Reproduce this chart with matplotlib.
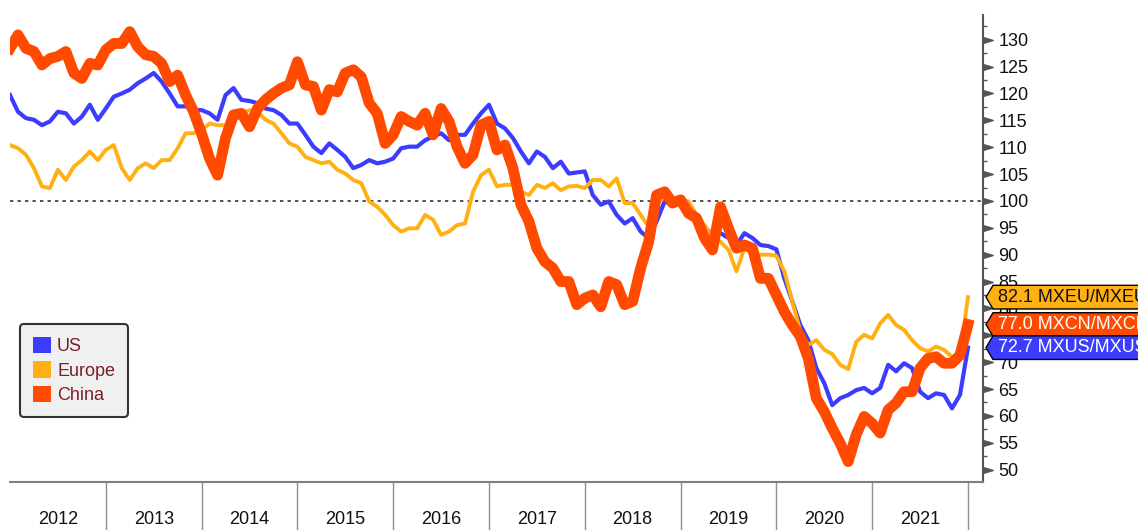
import numpy as np
import matplotlib
matplotlib.use("Agg")
import matplotlib.pyplot as plt
from matplotlib.patches import Patch, Polygon
from matplotlib.ticker import MultipleLocator
import matplotlib.transforms as mtransforms

plt.rcParams['font.family'] = ['Liberation Sans', 'DejaVu Sans']

# monthly index levels, Jan 2012 .. Jan 2022
us = [119.7, 116.6, 115.4, 115.1, 114.1, 114.8, 116.6, 116.3, 114.4, 115.7, 117.9, 115.1,
      117.2, 119.4, 120.0, 120.7, 121.9, 122.8, 123.8, 122.2, 120.0, 117.6, 117.6, 116.9,
      116.9, 116.3, 115.1, 119.7, 121.0, 118.8, 118.6, 118.2, 117.2, 116.9, 116.0, 114.4,
      114.4, 112.3, 110.1, 108.9, 110.7, 109.5, 108.2, 106.1, 106.7, 107.6, 107.0, 107.3,
      107.9, 109.8, 110.1, 110.1, 111.3, 112.0, 112.6, 111.3, 112.3, 112.3, 114.4, 116.3,
      117.9, 114.4, 113.5, 111.7, 109.2, 107.0, 109.2, 108.2, 106.1, 107.3, 105.1, 105.3,
      105.5, 101.1, 99.3, 99.9, 97.4, 95.8, 96.8, 94.3, 93.1, 96.2, 99.9, 99.3,
      99.9, 98.0, 96.2, 94.9, 94.0, 94.0, 93.1, 91.8, 94.0, 93.1, 91.8, 91.6,
      91.0, 85.6, 81.3, 76.9, 74.1, 68.9, 66.1, 62.0, 63.3, 63.9, 64.8, 65.2,
      64.2, 65.2, 69.5, 68.3, 69.8, 68.9, 64.5, 63.3, 64.2, 63.9, 61.4, 63.9,
      72.7]

europe = [110.4, 109.8, 108.6, 106.1, 102.7, 102.4, 105.8, 103.9, 106.4, 107.6, 109.2, 107.6,
          109.5, 110.4, 106.1, 103.9, 106.1, 107.0, 106.1, 107.6, 107.6, 109.8, 112.6, 112.6,
          113.2, 114.4, 114.1, 114.1, 114.8, 116.3, 116.9, 116.6, 115.1, 114.4, 112.6, 110.7,
          110.1, 108.2, 107.6, 107.0, 107.3, 105.8, 105.1, 103.9, 103.3, 99.9, 98.9, 97.4,
          95.5, 94.3, 94.9, 94.9, 97.4, 96.5, 93.7, 94.3, 95.5, 95.8, 101.7, 104.8,
          105.8, 102.7, 103.0, 103.0, 101.7, 101.1, 103.0, 102.4, 103.3, 102.0, 102.7, 102.8,
          102.4, 103.9, 103.9, 102.7, 104.2, 99.6, 99.6, 97.4, 95.2, 99.3, 100.8, 100.2,
          100.2, 99.9, 97.4, 95.5, 93.4, 92.4, 90.9, 86.9, 91.2, 90.3, 90.0, 90.0,
          89.8, 86.9, 81.3, 75.7, 73.2, 74.1, 72.3, 71.5, 69.5, 68.7, 73.8, 75.1,
          74.4, 77.2, 78.8, 76.9, 76.0, 74.1, 72.6, 72.0, 72.9, 72.3, 71.0, 71.3,
          82.1]

china = [128.4, 130.9, 128.4, 127.8, 125.3, 126.5, 126.9, 127.8, 123.8, 122.8, 125.6, 125.3,
         128.1, 129.3, 129.3, 131.5, 128.7, 127.2, 126.9, 125.6, 122.2, 123.4, 119.7, 116.6,
         112.5, 107.9, 104.8, 111.7, 116.0, 116.3, 113.8, 117.2, 118.8, 120.0, 121.0, 121.6,
         125.9, 121.6, 121.3, 116.9, 120.7, 120.3, 123.8, 124.4, 123.1, 118.2, 116.3, 110.7,
         112.3, 115.7, 114.8, 114.1, 116.3, 112.3, 117.2, 114.8, 110.1, 107.0, 108.6, 114.1,
         114.8, 109.5, 110.4, 106.1, 99.3, 96.2, 91.2, 88.7, 87.5, 85.0, 85.0, 80.7,
         81.9, 82.5, 80.3, 85.0, 84.4, 80.7, 81.3, 87.5, 92.4, 101.1, 101.7, 99.6,
         100.2, 97.7, 96.8, 93.1, 90.9, 98.9, 94.9, 91.2, 91.8, 91.2, 85.6, 85.6,
         82.5, 79.4, 76.9, 74.8, 70.7, 63.3, 60.8, 57.7, 54.9, 51.5, 56.5, 59.9,
         58.6, 56.8, 61.1, 62.4, 64.5, 64.5, 68.9, 70.7, 71.0, 69.8, 69.8, 71.3,
         77.0]

years = list(range(2012, 2022))
tag_labels = ['82.1 MXEU/MXEU', '77.0 MXCN/MXCN', '72.7 MXUS/MXUS']

t = 2012 + np.arange(len(us)) / 12.0

c_us, c_eu, c_cn = '#3c3cff', '#ffb114', '#ff4a00'

fig = plt.figure(figsize=(11.38, 5.30), dpi=100)
ax = fig.add_axes([10 / 1138, 48 / 530, 973 / 1138, 467 / 530])

ax.plot(t, us, color=c_us, lw=3.0, solid_joinstyle='round', zorder=3)
ax.plot(t, europe, color=c_eu, lw=2.8, solid_joinstyle='round', zorder=3)
ax.plot(t, china, color=c_cn, lw=7.8, solid_joinstyle='round', zorder=4)
ax.axhline(100, color='#333333', lw=1.2, ls=(0, (2, 2.5)), zorder=1)

ax.set_xlim(2012, 2022.157)
ax.set_ylim(47.7, 134.6)

# spines
for s in ['left', 'top']:
    ax.spines[s].set_visible(False)
ax.spines['right'].set_color('#555555')
ax.spines['right'].set_linewidth(1.5)
ax.spines['bottom'].set_color('#808080')
ax.spines['bottom'].set_linewidth(1.5)

# x axis: year separators + centred labels
ax.set_xticks(np.arange(2013, 2023))
ax.set_xticklabels([])
ax.tick_params(axis='x', which='major', length=35, width=1, color='#909090')
ax.set_xticks([y + 0.5 for y in years], minor=True)
ax.set_xticklabels([str(y) for y in years], minor=True)
ax.tick_params(axis='x', which='minor', length=0, pad=21, labelsize=13, labelcolor='#111111')

# right y axis
ax.yaxis.tick_right()
ax.set_yticks(np.arange(50, 131, 5))
ax.yaxis.set_minor_locator(MultipleLocator(2.5))
ax.tick_params(axis='y', which='major', length=0, pad=11, labelsize=13, labelcolor='#111111')
ax.tick_params(axis='y', which='minor', length=3, width=1, color='#555555')

blend = mtransforms.blended_transform_factory(ax.transAxes, ax.transData)
tri = [(0, -0.3), (1, 0), (0, 0.3), (0, -0.3)]
yt = np.arange(50, 131, 5)
ax.plot(np.ones(len(yt)), yt, ls='none', marker=tri, ms=14, color='#555555',
        transform=blend, clip_on=False, zorder=5)

# legend
handles = [Patch(facecolor=c_us, edgecolor='none', label='US'),
           Patch(facecolor=c_eu, edgecolor='none', label='Europe'),
           Patch(facecolor=c_cn, edgecolor='none', label='China')]
leg = ax.legend(handles=handles, loc='upper left', bbox_to_anchor=(0.0103, 0.338),
                borderaxespad=0, fontsize=13, handlelength=1.0, handleheight=1.0,
                handletextpad=0.35, labelspacing=0.35, borderpad=0.7,
                labelcolor='#7a1f2b', facecolor='#f0f0f0', edgecolor='#333333',
                framealpha=1, fancybox=True)
leg.get_frame().set_linewidth(1.5)

# last-value tags on the right
tag_vals = [europe[-1], china[-1], us[-1]]
tag_face = [c_eu, c_cn, c_us]
tag_text = ['#111111', 'white', 'white']
tip, flat, right = 1 + 3 / 973, 1 + 10 / 973, 1.3
for v, lab, fc, tc in zip(tag_vals, tag_labels, tag_face, tag_text):
    h = 2.2
    poly = Polygon([(tip, v), (flat, v + h), (right, v + h), (right, v - h), (flat, v - h)],
                   closed=True, facecolor=fc, edgecolor='black', lw=1,
                   transform=blend, clip_on=False, zorder=10)
    ax.add_patch(poly)
    ax.text(1 + 15 / 973, v, lab, transform=blend, ha='left', va='center',
            fontsize=13, color=tc, clip_on=False, zorder=11)

fig.savefig('out.png', dpi=100)
